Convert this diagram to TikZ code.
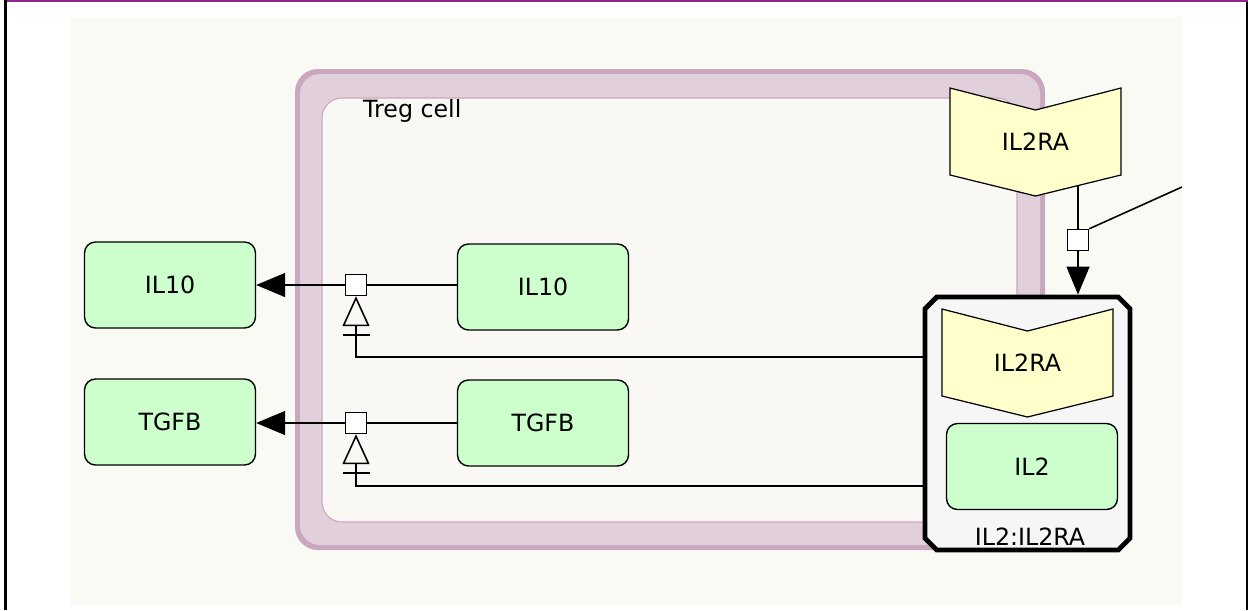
\documentclass[tikz,border=0pt]{standalone}
\usepackage{fontspec}
\setmainfont{DejaVu Sans}
\usetikzlibrary{arrows.meta,shapes.misc,calc}
\definecolor{gene}{RGB}{204,255,204}
\definecolor{receptor}{RGB}{255,255,204}
\definecolor{membrane}{RGB}{225,208,219}
\definecolor{membraneedge}{RGB}{201,167,191}
\definecolor{cytosol}{RGB}{250,248,245}
\definecolor{canvas}{RGB}{250,250,245}
\definecolor{complexfill}{RGB}{246,246,247}
\definecolor{framepurple}{RGB}{140,40,140}

\begin{document}
\begin{tikzpicture}[x=0.02cm, y=-0.02cm,
    every node/.style={font=\fontsize{13.5}{16}\selectfont},
    gene/.style={draw, line width=0.8pt, fill=gene, rounded corners=0.22cm,
      minimum width=3.42cm, minimum height=1.72cm},
    rcpt/.style={minimum width=3.46cm, minimum height=2.2cm, inner sep=0pt,
      path picture={\draw[line width=0.7pt, fill=receptor]
        ([shift={(0.02cm,-0.02cm)}]path picture bounding box.north west)
        -- ([yshift=-0.46cm]path picture bounding box.north)
        -- ([shift={(-0.02cm,-0.02cm)}]path picture bounding box.north east)
        -- ([shift={(-0.02cm,0.44cm)}]path picture bounding box.south east)
        -- ([yshift=0.02cm]path picture bounding box.south)
        -- ([shift={(0.02cm,0.44cm)}]path picture bounding box.south west)
        -- cycle;}},
    proc/.style={draw, line width=0.8pt, fill=white, minimum size=0.42cm, inner sep=0pt},
    conv/.style={line width=0.9pt},
    prod/.style={line width=0.9pt, -{Triangle[length=0.58cm, width=0.48cm]}},
    need/.style={line width=0.9pt,
      -{Bar[width=0.54cm, sep=0.16cm] Triangle[open, length=0.6cm, width=0.54cm]}}]

  \useasboundingbox (0,0) rectangle (1248,610);

  % Frame
  \fill[black] (4,0) rectangle (7,610);
  \fill[framepurple] (7,0) rectangle (1248,2);
  \fill[black] (1246,2) rectangle (1248,610);
  \fill[canvas] (70,17) rectangle (1182,605);

  % Treg cell compartment
  \fill[membraneedge, rounded corners=0.46cm] (295,69) rectangle (1045,550);
  \fill[membrane, rounded corners=0.40cm] (300,74) rectangle (1040,545);
  \draw[membraneedge, fill=cytosol, line width=0.6pt, rounded corners=0.40cm] (322,98) rectangle (1017,522);
  \node[anchor=base west] (treg) at (357,117) {Treg cell};

  % Species outside
  \node[gene] (il10out) at (170,285) {IL10};
  \node[gene] (tgfbout) at (170,422) {TGFB};

  % Species inside
  \node[gene] (il10in) at (543,287) {IL10};
  \node[gene] (tgfbin) at (543,423) {TGFB};

  % Receptor on the membrane
  \node[rcpt] (rtop) at (1035.5,142) {IL2RA};

  % Complex
  \node[draw, line width=2.8pt, fill=complexfill, chamfered rectangle,
    chamfered rectangle xsep=0.18cm, chamfered rectangle ysep=0.18cm,
    minimum width=4.1cm, minimum height=5.06cm] (cx) at (1027.5,423.5) {};
  \node[rcpt] (rin) at (1027.5,363) {IL2RA};
  \node[gene] (il2) at (1032,466.5) {IL2};
  \node[anchor=base] (cxlabel) at (1030,545) {IL2:IL2RA};

  % Processes
  \node[proc] (p1) at (356,285) {};
  \node[proc] (p2) at (356,423) {};
  \node[proc] (p3) at (1078,240) {};

  % Transport of IL10 and TGFB
  \draw[conv] (il10in.west |- p1) -- (p1.east);
  \draw[prod] (p1.west) -- (il10out.east |- p1);
  \draw[conv] (tgfbin.west |- p2) -- (p2.east);
  \draw[prod] (p2.west) -- (tgfbout.east |- p2);
  \draw[need] (cx.west |- 0,357) -| (p1.south);
  \draw[need] (cx.west |- 0,486) -| (p2.south);

  % Binding of IL2RA
  \coordinate (rb) at ($(rtop.south)!0.5!([yshift=0.44cm]rtop.south east)$);
  \coordinate (offpage) at (1182,187);
  \draw[conv] (rb -| p3) -- (p3.north);
  \draw[conv] (p3.north east) -- (offpage);
  \draw[line width=0.9pt, -{Triangle[length=0.56cm, width=0.46cm]}] (p3.south) -- (cx.north -| p3);
\end{tikzpicture}
\end{document}
